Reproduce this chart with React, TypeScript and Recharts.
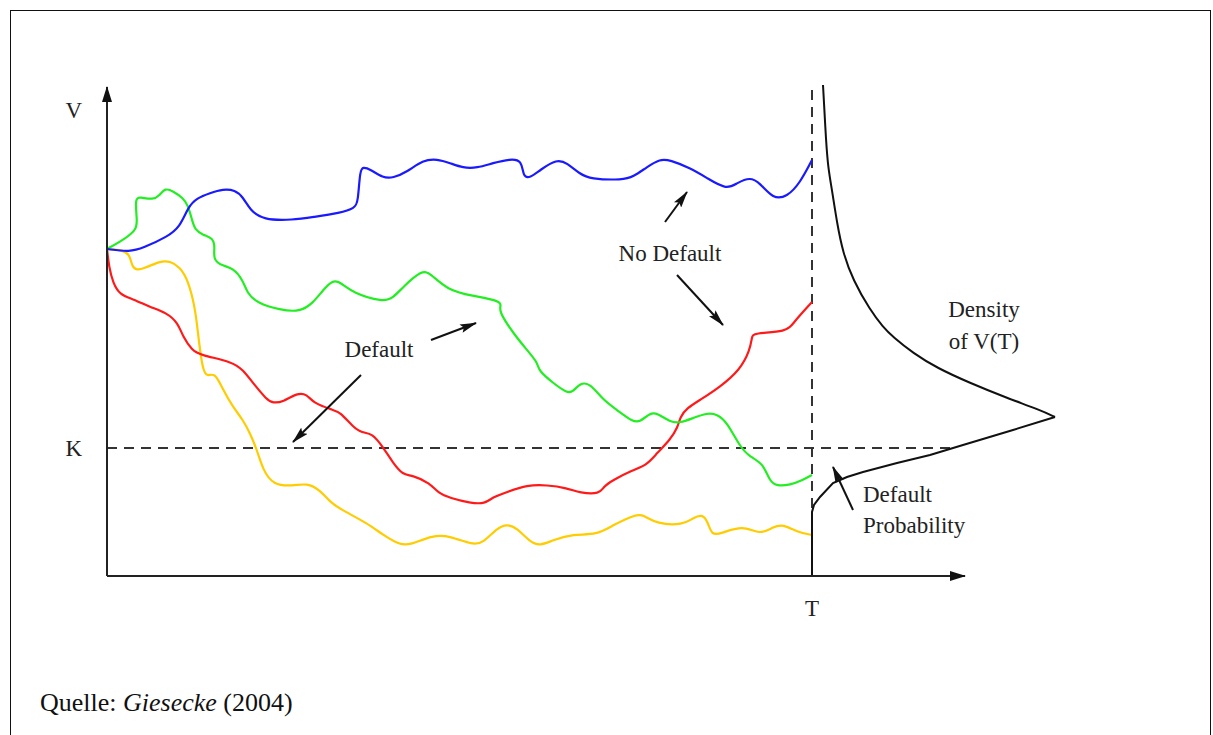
import React from 'react'
import { ComposedChart, Line, XAxis, YAxis, ReferenceLine, Scatter } from 'recharts'

// paths of firm value V over time t (T = 705)
const bluePath = [
  [0, 327], [23, 324], [36, 328], [60, 339], [73, 349], [81, 369], [90, 378], [103, 383],
  [116, 387], [128, 386], [136, 379], [143, 366], [156, 356], [186, 356], [206, 359],
  [233, 363], [248, 368], [251, 374], [253, 406], [256, 409], [263, 407], [276, 398],
  [286, 398], [300, 404], [316, 416], [330, 417], [343, 413], [356, 408], [370, 408],
  [386, 413], [403, 417], [415, 416], [416, 399], [423, 398], [433, 406], [450, 417],
  [460, 413], [473, 402], [483, 397], [516, 396], [526, 399], [540, 409], [553, 417],
  [563, 416], [583, 408], [600, 398], [620, 386], [630, 393], [643, 399], [653, 393],
  [666, 377], [680, 379], [693, 393], [705, 416],
]

const greenPath = [
  [0, 327], [13, 334], [30, 346], [30, 356], [28, 378], [33, 379], [46, 376], [53, 381],
  [58, 388], [66, 385], [76, 378], [81, 371], [85, 356], [88, 346], [96, 341], [106, 338],
  [108, 329], [106, 316], [116, 310], [126, 308], [136, 296], [140, 283], [150, 273],
  [173, 266], [193, 264], [206, 273], [216, 286], [226, 296], [233, 294], [246, 283],
  [276, 274], [286, 278], [296, 289], [315, 306], [323, 303], [340, 286], [366, 280],
  [390, 276], [395, 271], [391, 266], [406, 243], [420, 226], [431, 213], [431, 206],
  [446, 193], [460, 183], [466, 184], [473, 193], [483, 193], [496, 176], [510, 166],
  [526, 154], [533, 154], [543, 163], [550, 163], [563, 154], [573, 153], [586, 158],
  [600, 163], [610, 162], [620, 154], [633, 129], [643, 119], [656, 113], [663, 94],
  [670, 90], [683, 91], [696, 96], [705, 101],
]

const redPath = [
  [0, 327], [2, 309], [6, 293], [13, 281], [26, 277], [43, 269], [60, 263], [71, 253],
  [76, 239], [85, 226], [93, 221], [126, 214], [136, 206], [146, 193], [160, 176],
  [166, 173], [176, 174], [190, 183], [200, 182], [206, 173], [226, 166], [233, 164],
  [246, 149], [255, 143], [265, 143], [276, 129], [286, 113], [296, 101], [305, 101],
  [323, 93], [331, 83], [343, 78], [363, 73], [378, 72], [386, 79], [400, 84], [420, 91],
  [440, 91], [460, 88], [473, 83], [493, 82], [496, 89], [506, 96], [526, 106], [540, 111],
  [550, 123], [563, 136], [571, 149], [573, 159], [580, 168], [593, 176], [613, 189],
  [633, 206], [643, 226], [645, 239], [646, 243], [680, 244], [686, 253], [705, 274],
]

const yellowPath = [
  [0, 327], [16, 326], [23, 321], [25, 309], [30, 306], [36, 307], [53, 315], [63, 315],
  [73, 309], [81, 296], [88, 269], [91, 243], [93, 226], [96, 206], [100, 199], [108, 204],
  [116, 186], [126, 169], [136, 156], [143, 143], [150, 126], [156, 106], [166, 91],
  [186, 90], [200, 93], [213, 86], [223, 74], [233, 67], [260, 53], [276, 41], [293, 31],
  [303, 31], [326, 41], [343, 40], [366, 31], [376, 33], [390, 48], [400, 52], [410, 48],
  [423, 34], [433, 30], [446, 36], [466, 42], [490, 41], [506, 51], [530, 62], [536, 61],
  [550, 52], [576, 51], [586, 58], [596, 62], [601, 53], [605, 41], [613, 42], [636, 51],
  [653, 41], [666, 49], [676, 52], [690, 44], [705, 41],
]

// density of V(T), drawn sideways from the T line: lower tail up to the peak, then upper tail
const densityLower = [
  [705, 0], [705, 64], [707, 71], [713, 79], [726, 93], [740, 99], [756, 104], [790, 113],
  [823, 121], [856, 131], [906, 146], [948, 159],
]
const densityUpper = [
  [948, 159], [933, 166], [900, 178], [863, 193], [830, 208], [806, 223], [786, 239],
  [776, 249], [763, 266], [746, 296], [736, 323], [730, 353], [725, 386], [721, 409],
  [719, 436], [717, 473], [716, 491],
]

const T = 705
const K = 128
const V_TICK = 466

// annotation arrows: [tailT, tailV, headT, headV]
const arrows = [
  [558, 354, 580, 384],
  [570, 301, 616, 251],
  [324, 236, 369, 253],
  [254, 201, 186, 134],
  [746, 66, 726, 109],
]

const notesCentered = [
  { t: 563, v: 315, text: 'No Default' },
  { t: 272, v: 219, text: 'Default' },
  { t: 877, v: 259, text: 'Density' },
  { t: 877, v: 227, text: 'of V(T)' },
]
const notesLeft = [
  { t: 756, v: 74, text: 'Default' },
  { t: 756, v: 43, text: 'Probability' },
]

const toPts = (arr: number[][]) => arr.map(([t, v]) => ({ t, v }))

const FONT = '"Liberation Serif", "Times New Roman", serif'

const noteShape = (anchor: 'middle' | 'start') => (p: any) => (
  <text
    x={p.cx}
    y={p.cy}
    textAnchor={anchor}
    fontFamily={FONT}
    fontSize={23}
    fill="#222"
  >
    {p.payload.text}
  </text>
)

export default function App() {
  return (
    <div style={{ position: 'absolute', left: 0, top: 0, width: 1213, height: 735, overflow: 'hidden', background: '#fff' }}>
      <div
        style={{
          position: 'absolute',
          left: 10,
          top: 10,
          width: 1201,
          height: 800,
          boxSizing: 'border-box',
          border: '1.5px solid #111',
        }}
      />
      <div style={{ position: 'absolute', left: 0, top: 0 }}>
        <ComposedChart width={1213} height={650} margin={{ top: 85, right: 153, bottom: 44, left: 67 }}>
          <defs>
            <marker id="arrowHead" viewBox="0 0 17 9" refX="16" refY="4.5" markerWidth="17" markerHeight="9" markerUnits="userSpaceOnUse" orient="auto">
              <path d="M0,0 L17,4.5 L0,9 L3,4.5 z" fill="#111" />
            </marker>
            <marker id="axisHead" viewBox="0 0 16 10" refX="15" refY="5" markerWidth="16" markerHeight="10" markerUnits="userSpaceOnUse" orient="auto">
              <path d="M0,0 L16,5 L0,10 z" fill="#111" />
            </marker>
          </defs>
          <XAxis
            dataKey="t"
            type="number"
            domain={[0, 953]}
            allowDataOverflow
            ticks={[T]}
            tickFormatter={() => 'T'}
            axisLine={false}
            tickLine={false}
            tickSize={0}
            tickMargin={24}
            height={30}
            tick={{ fontSize: 23, fill: '#222', fontFamily: FONT }}
          />
          <YAxis
            dataKey="v"
            type="number"
            domain={[0, 491]}
            allowDataOverflow
            ticks={[K, V_TICK]}
            tickFormatter={(val: number) => (val === K ? 'K' : 'V')}
            axisLine={false}
            tickLine={false}
            tickSize={0}
            tickMargin={25}
            width={40}
            tick={{ fontSize: 23, fill: '#222', fontFamily: FONT }}
          />

          <ReferenceLine segment={[{ x: 0, y: K }, { x: 843, y: K }]} stroke="#333" strokeWidth={2} strokeDasharray="10 7" />
          <ReferenceLine segment={[{ x: T, y: 0 }, { x: T, y: 489 }]} stroke="#333" strokeWidth={2} strokeDasharray="10 7" />

          <Line data={toPts(yellowPath)} dataKey="v" type="basis" stroke="#ffcc00" strokeWidth={2.2} dot={false} isAnimationActive={false} />
          <Line data={toPts(redPath)} dataKey="v" type="basis" stroke="#ff1a1a" strokeWidth={2.2} dot={false} isAnimationActive={false} />
          <Line data={toPts(greenPath)} dataKey="v" type="basis" stroke="#22ee22" strokeWidth={2.2} dot={false} isAnimationActive={false} />
          <Line data={toPts(bluePath)} dataKey="v" type="basis" stroke="#1a1aff" strokeWidth={2.2} dot={false} isAnimationActive={false} />
          <Line data={toPts(densityLower)} dataKey="v" type="linear" stroke="#111" strokeWidth={2} dot={false} isAnimationActive={false} />
          <Line data={toPts(densityUpper)} dataKey="v" type="basis" stroke="#111" strokeWidth={2} dot={false} isAnimationActive={false} />

          {/* axes with arrow heads */}
          <ReferenceLine segment={[{ x: 0, y: 0 }, { x: 0, y: 489 }]} stroke="#222" strokeWidth={2} markerEnd="url(#axisHead)" />
          <ReferenceLine segment={[{ x: 0, y: 0 }, { x: 858, y: 0 }]} stroke="#222" strokeWidth={2} markerEnd="url(#axisHead)" />

          {arrows.map(([t1, v1, t2, v2], i) => (
            <ReferenceLine
              key={i}
              segment={[{ x: t1, y: v1 }, { x: t2, y: v2 }]}
              stroke="#111"
              strokeWidth={2}
              markerEnd="url(#arrowHead)"
            />
          ))}

          <Scatter data={notesCentered} shape={noteShape('middle')} isAnimationActive={false} />
          <Scatter data={notesLeft} shape={noteShape('start')} isAnimationActive={false} />
        </ComposedChart>
      </div>
      <div
        style={{
          position: 'absolute',
          left: 40,
          top: 690,
          fontFamily: FONT,
          fontSize: 26,
          lineHeight: '26px',
          color: '#111',
          whiteSpace: 'nowrap',
        }}
      >
        Quelle: <i>Giesecke</i> (2004)
      </div>
    </div>
  )
}
